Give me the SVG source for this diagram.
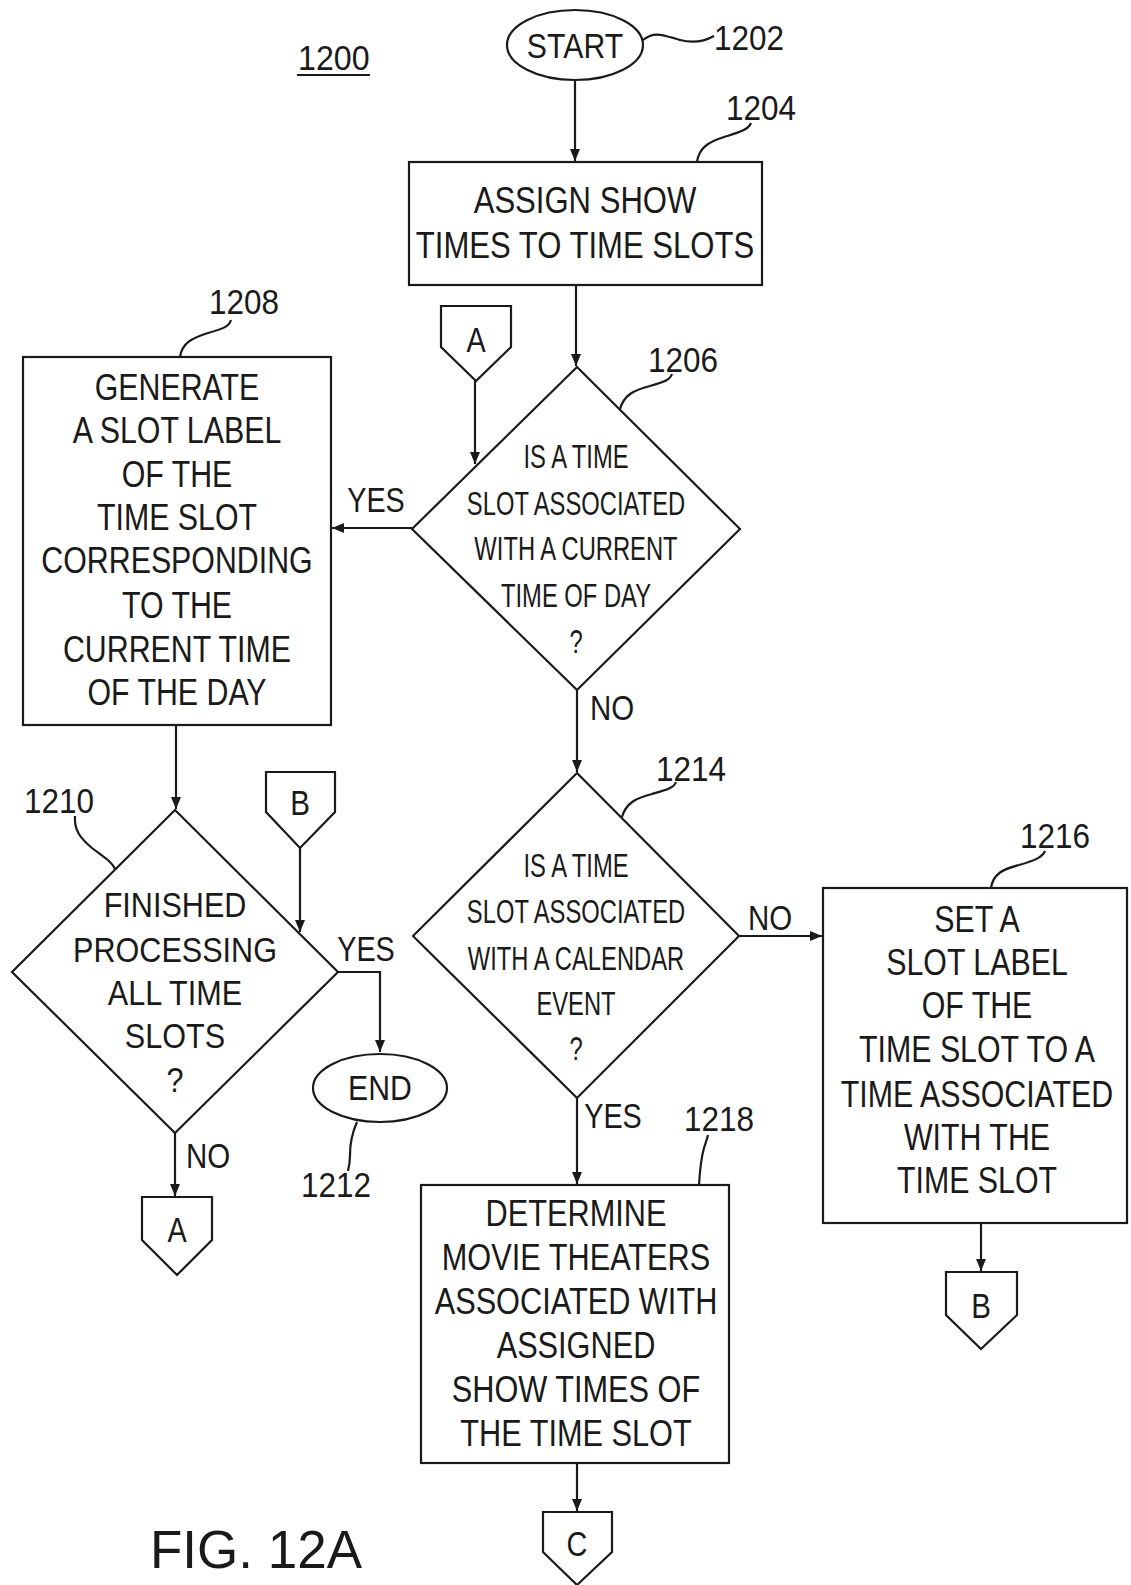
<svg xmlns="http://www.w3.org/2000/svg" width="1131" height="1585" viewBox="0 0 1131 1585">
<style>
.s{fill:none;stroke:#1a1a1a;stroke-width:2.2}
.n{fill:#fff;stroke:#1a1a1a;stroke-width:2.2}
text{font-family:"Liberation Sans",Arial,sans-serif;fill:#1a1a1a}
.t{font-size:37px;text-anchor:middle}
.d{font-size:33px;text-anchor:middle}
.d2{font-size:36px;text-anchor:middle}
.l{font-size:35px}
.c{font-size:36px;text-anchor:middle}
</style>
<defs>
<marker id="ah" markerUnits="userSpaceOnUse" markerWidth="14" markerHeight="12" refX="12" refY="5" orient="auto">
<path d="M0,0 L12,5 L0,10 Z" fill="#1a1a1a"/>
</marker>
</defs>
<rect width="1131" height="1585" fill="#fff"/>

<g id="connectors">
<path class="s" d="M575,80 V161" marker-end="url(#ah)"/>
<path class="s" d="M576,285 V366" marker-end="url(#ah)"/>
<path class="s" d="M475,381 V464" marker-end="url(#ah)"/>
<path class="s" d="M412,528 H332" marker-end="url(#ah)"/>
<path class="s" d="M577,690 V772" marker-end="url(#ah)"/>
<path class="s" d="M176,725 V809" marker-end="url(#ah)"/>
<path class="s" d="M300,848 V932" marker-end="url(#ah)"/>
<path class="s" d="M338,972 H380 V1052" marker-end="url(#ah)"/>
<path class="s" d="M175,1133 V1196" marker-end="url(#ah)"/>
<path class="s" d="M739,936 H822" marker-end="url(#ah)"/>
<path class="s" d="M577,1098 V1184" marker-end="url(#ah)"/>
<path class="s" d="M981,1223 V1271" marker-end="url(#ah)"/>
<path class="s" d="M577,1463 V1511" marker-end="url(#ah)"/>
<text class="c" transform="translate(376 512) scale(0.8 1)">YES</text>
<text class="c" transform="translate(612 720) scale(0.82 1)">NO</text>
<text class="c" transform="translate(366 961) scale(0.8 1)">YES</text>
<text class="c" transform="translate(208 1168) scale(0.82 1)">NO</text>
<text class="c" transform="translate(770 930) scale(0.82 1)">NO</text>
<text class="c" transform="translate(613 1128) scale(0.8 1)">YES</text>
</g>

<g id="ref-labels">
<text class="l" transform="translate(298 70) scale(0.92 1)">1200</text>
<path class="s" d="M297,75 H370" stroke-width="1.8"/>
<text class="l" transform="translate(714 50) scale(0.9 1)">1202</text>
<path class="s" d="M643,40 C655,30 665,36 680,40 C695,44 705,41 714,36"/>
<text class="l" transform="translate(726 120) scale(0.9 1)">1204</text>
<path class="s" d="M697,162 C699,148 708,142 724,137 C740,132 748,130 751,123"/>
<text class="l" transform="translate(648 372) scale(0.9 1)">1206</text>
<path class="s" d="M620,409 C624,395 634,390 650,386 C664,382 670,380 672,374"/>
<text class="l" transform="translate(209 314) scale(0.9 1)">1208</text>
<path class="s" d="M180,357 C182,343 192,338 208,333 C222,329 229,327 231,320"/>
<text class="l" transform="translate(24 813) scale(0.9 1)">1210</text>
<path class="s" d="M75,816 C74,830 80,838 92,848 C105,858 112,862 115,869"/>
<text class="l" transform="translate(301 1197) scale(0.9 1)">1212</text>
<path class="s" d="M357,1122 C352,1133 350,1145 350,1155 C350,1162 349,1167 348,1171"/>
<text class="l" transform="translate(656 781) scale(0.9 1)">1214</text>
<path class="s" d="M622,817 C626,803 636,798 652,794 C666,790 674,788 676,782"/>
<text class="l" transform="translate(1020 848) scale(0.9 1)">1216</text>
<path class="s" d="M991,888 C993,874 1003,869 1019,865 C1033,861 1042,858 1045,851"/>
<text class="l" transform="translate(684 1131) scale(0.9 1)">1218</text>
<path class="s" d="M699,1185 C700,1168 702,1155 704,1148 C706,1142 707,1139 708,1135"/>
</g>

<g id="n1202">
<ellipse class="n" cx="575" cy="45" rx="68" ry="35"/>
<text class="c" transform="translate(575 58) scale(0.84 1)">START</text>
</g>

<g id="n1204">
<rect class="n" x="409" y="162" width="353" height="123"/>
<text class="t" transform="translate(585 0) scale(0.84 1)"><tspan x="0" y="213">ASSIGN SHOW</tspan><tspan x="0" y="258">TIMES TO TIME SLOTS</tspan></text>
</g>

<g id="connA1">
<path class="n" d="M441,306 H511 V347 L476,381 L441,347 Z"/>
<text class="c" transform="translate(476 352) scale(0.8 1)">A</text>
</g>

<g id="n1206">
<path class="n" d="M577,367 L740,529 L577,690 L412,529 Z"/>
<text class="d" transform="translate(576 0) scale(0.72 1)"><tspan x="0" y="468">IS A TIME</tspan><tspan x="0" y="515">SLOT ASSOCIATED</tspan><tspan x="0" y="560">WITH A CURRENT</tspan><tspan x="0" y="607">TIME OF DAY</tspan><tspan x="0" y="653">?</tspan></text>
</g>

<g id="n1208">
<rect class="n" x="23" y="357" width="308" height="368"/>
<text class="t" transform="translate(177 0) scale(0.82 1)"><tspan x="0" y="400">GENERATE</tspan><tspan x="0" y="443">A SLOT LABEL</tspan><tspan x="0" y="487">OF THE</tspan><tspan x="0" y="530">TIME SLOT</tspan><tspan x="0" y="573">CORRESPONDING</tspan><tspan x="0" y="618">TO THE</tspan><tspan x="0" y="662">CURRENT TIME</tspan><tspan x="0" y="705">OF THE DAY</tspan></text>
</g>

<g id="connB1">
<path class="n" d="M266,772 H335 V812 L300,848 L266,812 Z"/>
<text class="c" transform="translate(300 815) scale(0.82 1)">B</text>
</g>

<g id="n1210">
<path class="n" d="M175,810 L338,972 L175,1133 L12,972 Z"/>
<text class="d2" transform="translate(175 0) scale(0.85 1)"><tspan x="0" y="917">FINISHED</tspan><tspan x="0" y="962">PROCESSING</tspan><tspan x="0" y="1005">ALL TIME</tspan><tspan x="0" y="1048">SLOTS</tspan><tspan x="0" y="1092">?</tspan></text>
</g>

<g id="n1212">
<ellipse class="n" cx="380" cy="1088" rx="67" ry="34"/>
<text class="c" transform="translate(380 1100) scale(0.84 1)">END</text>
</g>

<g id="connA2">
<path class="n" d="M142,1197 H212 V1240 L177,1275 L142,1240 Z"/>
<text class="c" transform="translate(177 1242) scale(0.8 1)">A</text>
</g>

<g id="n1214">
<path class="n" d="M577,773 L739,936 L577,1098 L413,936 Z"/>
<text class="d" transform="translate(576 0) scale(0.72 1)"><tspan x="0" y="877">IS A TIME</tspan><tspan x="0" y="923">SLOT ASSOCIATED</tspan><tspan x="0" y="970">WITH A CALENDAR</tspan><tspan x="0" y="1015">EVENT</tspan><tspan x="0" y="1060">?</tspan></text>
</g>

<g id="n1216">
<rect class="n" x="823" y="888" width="304" height="335"/>
<text class="t" transform="translate(977 0) scale(0.82 1)"><tspan x="0" y="932">SET A</tspan><tspan x="0" y="975">SLOT LABEL</tspan><tspan x="0" y="1018">OF THE</tspan><tspan x="0" y="1062">TIME SLOT TO A</tspan><tspan x="0" y="1107">TIME ASSOCIATED</tspan><tspan x="0" y="1150">WITH THE</tspan><tspan x="0" y="1193">TIME SLOT</tspan></text>
</g>

<g id="connB2">
<path class="n" d="M946,1272 H1017 V1315 L981,1349 L946,1315 Z"/>
<text class="c" transform="translate(981 1318) scale(0.82 1)">B</text>
</g>

<g id="n1218">
<rect class="n" x="421" y="1185" width="308" height="278"/>
<text class="t" transform="translate(576 0) scale(0.83 1)"><tspan x="0" y="1226">DETERMINE</tspan><tspan x="0" y="1270">MOVIE THEATERS</tspan><tspan x="0" y="1314">ASSOCIATED WITH</tspan><tspan x="0" y="1358">ASSIGNED</tspan><tspan x="0" y="1402">SHOW TIMES OF</tspan><tspan x="0" y="1446">THE TIME SLOT</tspan></text>
</g>

<g id="connC">
<path class="n" d="M543,1512 H612 V1552 L577,1585 L543,1552 Z"/>
<text class="c" transform="translate(577 1556) scale(0.8 1)">C</text>
</g>

<text x="150" y="1568" style="font-size:53px">FIG. 12A</text>
</svg>
